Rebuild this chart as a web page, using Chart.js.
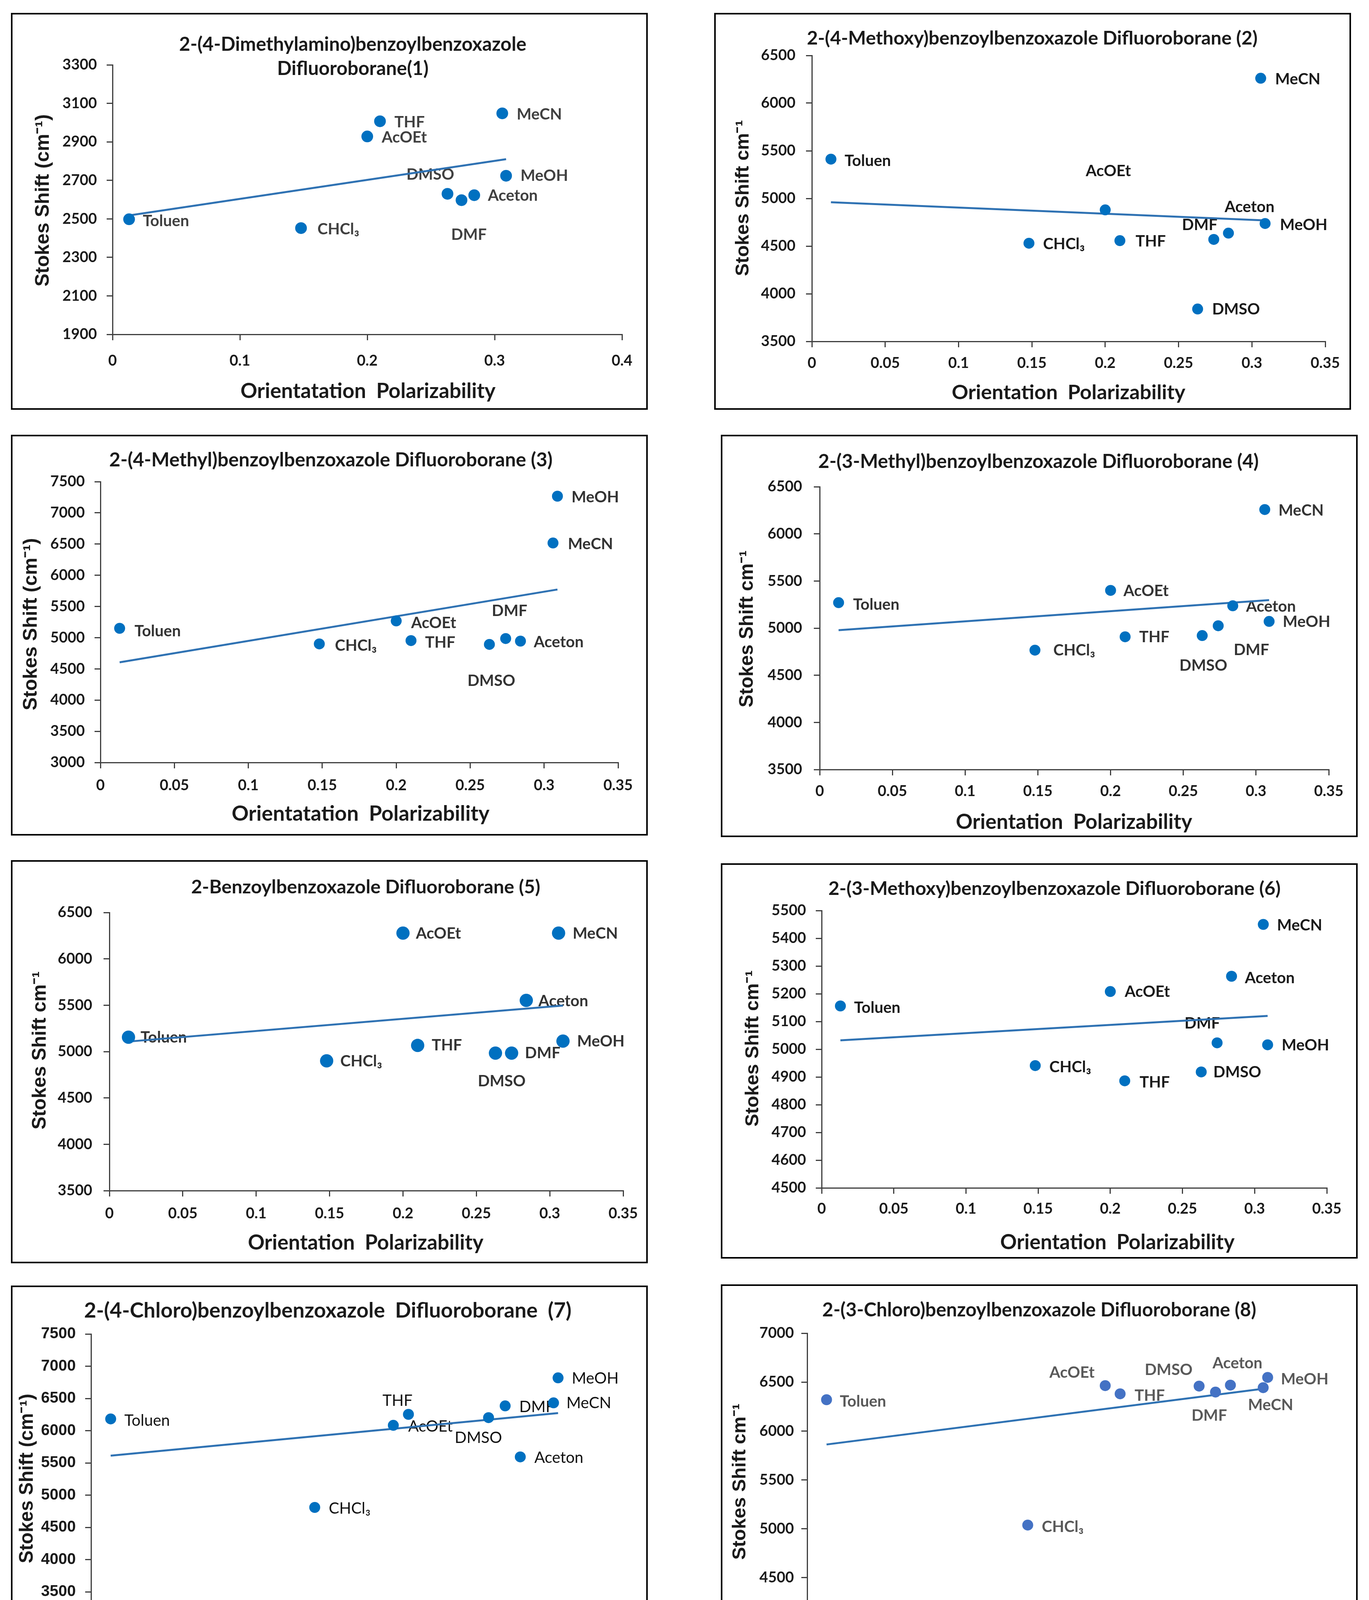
<!DOCTYPE html>
<html>
<head>
<meta charset="utf-8">
<script src="https://cdn.jsdelivr.net/npm/chart.js@4.4.1/dist/chart.umd.min.js"></script>
<style>
  html, body { margin: 0; padding: 0; background: #ffffff; }
  body { width: 3504px; height: 4344px; position: relative; overflow: hidden; }
  canvas { position: absolute; }
</style>
</head>
<body>
<script>
// Solvents and their orientation polarizability (shared by all eight plots)
const solvents = ['Toluen', 'CHCl₃', 'AcOEt', 'THF', 'DMSO', 'DMF', 'Aceton', 'MeOH', 'MeCN'];
const polarizability = [0.013, 0.148, 0.200, 0.210, 0.263, 0.274, 0.284, 0.309, 0.306];

// Stokes shift (cm-1) per compound, same order as solvents
const shift1 = [2498, 2452, 2928, 3007, 2630, 2597, 2623, 2724, 3048];
const shift2 = [5412, 4530, 4880, 4557, 3840, 4570, 4636, 4737, 6261];
const shift3 = [5150, 4900, 5268, 4953, 4892, 4986, 4945, 7267, 6517];
const shift4 = [5270, 4766, 5400, 4908, 4921, 5025, 5237, 5071, 6258];
const shift5 = [5155, 4900, 6278, 5066, 4983, 4983, 5552, 5113, 6278];
const shift6 = [5156, 4941, 5208, 4886, 4918, 5023, 5263, 5016, 5450];
const shift7 = [6183, 4811, 6084, 6254, 6203, 6385, 5594, 6820, 6432];
const shift8 = [6320, 5038, 6464, 6380, 6459, 6398, 6469, 6548, 6443];

// Linear trend lines, read at both ends of the data range
const trendX = [0.013, 0.309];
const trend1 = [2518, 2810];
const trend2 = [4960, 4769];
const trend3 = [4605, 5772];
const trend4 = [4978, 5297];
const trend5 = [5108, 5496];
const trend6 = [5032, 5120];
const trend7 = [5614, 6274];
const trend8 = [5862, 6438];

// Tick labels
const xTicksWide = [0, 0.1, 0.2, 0.3, 0.4];
const xTicks = [0, 0.05, 0.1, 0.15, 0.2, 0.25, 0.3, 0.35];
const yTicks1 = [1900, 2100, 2300, 2500, 2700, 2900, 3100, 3300];
const yTicks3500 = [3500, 4000, 4500, 5000, 5500, 6000, 6500];
const yTicks3000 = [3000, 3500, 4000, 4500, 5000, 5500, 6000, 6500, 7000, 7500];
const yTicks6 = [4500, 4600, 4700, 4800, 4900, 5000, 5100, 5200, 5300, 5400, 5500];
const yTicks8 = [4000, 4500, 5000, 5500, 6000, 6500, 7000];

const axisColor = '#3f3f3f';
const trendColor = '#2f72b3';
const textColor = '#1a1a1a';

// Label placement per point: [dx, dy, align]; null = to the right of the dot
const R = null;
const panels = [
  {
    box: [28, 33, 1630, 1016], area: [260, 133, 1564, 823], xPad: 34, yPad: 25,
    y: shift1, trend: trend1, xTicks: xTicksWide, yTicks: yTicks1,
    title: ['2-(4-Dimethylamino)benzoylbenzoxazole', 'Difluoroborane(1)'], titleX: 875, titleY: [81, 143], titleW: 889,
    xTitle: 'Orientatation  Polarizability', xTitleX: 914, xTitleY: 969, xTitleW: 653,
    yTitle: 'Stokes Shift (cm⁻¹)', yTitleX: 83, yTitleY: 480, yTitleW: 441,
    r: 15, marker: '#0070c0', labelColor: '#404040', labelWeight: 'bold',
    labels: [[35, 5], [42, 3], R, R, [-44, -49, 'center'], [19, 89, 'center'], [35, 1], [37, 0], R]
  },
  {
    box: [1828, 33, 1630, 1016], area: [250, 109, 1564, 841], xPad: 22, yPad: 27,
    y: shift2, trend: trend2, xTicks: xTicks, yTicks: yTicks3500,
    title: ['2-(4-Methoxy)benzoylbenzoxazole Difluoroborane (2)'], titleX: 814, titleY: [65], titleW: 1154,
    xTitle: 'Orientation  Polarizability', xTitleX: 907, xTitleY: 972, xTitleW: 598,
    yTitle: 'Stokes Shift cm⁻¹', yTitleX: 75, yTitleY: 474, yTitleW: 399,
    r: 14, marker: '#0070c0', labelColor: textColor, labelWeight: 'bold',
    labels: [[35, 5], [36, 2], [8, -99, 'center'], [40, 2], [37, 1], [-36, -37, 'center'], [54, -67, 'center'], [38, 4], R]
  },
  {
    box: [28, 1113, 1630, 1026], area: [229, 120, 1554, 839], xPad: 25, yPad: 25,
    y: shift3, trend: trend3, xTicks: xTicks, yTicks: yTicks3000,
    title: ['2-(4-Methyl)benzoylbenzoxazole Difluoroborane (3)'], titleX: 819, titleY: [65], titleW: 1135,
    xTitle: 'Orientatation  Polarizability', xTitleX: 895, xTitleY: 971, xTitleW: 660,
    yTitle: 'Stokes Shift (cm⁻¹)', yTitleX: 52, yTitleY: 485, yTitleW: 441,
    r: 14, marker: '#0070c0', labelColor: '#333333', labelWeight: 'bold',
    labels: [[38, 8], [40, 5], [38, 5], [36, 5], [5, 93, 'center'], [10, -71, 'center'], [34, 3], [36, 3], [38, 3]]
  },
  {
    box: [1845, 1113, 1630, 1030], area: [253, 133, 1556, 857], xPad: 22, yPad: 30,
    y: shift4, trend: trend4, xTicks: xTicks, yTicks: yTicks3500,
    title: ['2-(3-Methyl)benzoylbenzoxazole Difluoroborane (4)'], titleX: 813, titleY: [69], titleW: 1128,
    xTitle: 'Orientation  Polarizability', xTitleX: 904, xTitleY: 992, xTitleW: 605,
    yTitle: 'Stokes Shift cm⁻¹', yTitleX: 68, yTitleY: 497, yTitleW: 402,
    r: 14, marker: '#0070c0', labelColor: '#333333', labelWeight: 'bold',
    labels: [[37, 5], [47, 1], [33, 2], [36, 1], [3, 77, 'center'], [85, 62, 'center'], [34, 2], [35, 1], [35, 3]]
  },
  {
    box: [28, 2202, 1630, 1032], area: [252, 134, 1567, 846], xPad: 25, yPad: 29,
    y: shift5, trend: trend5, xTicks: xTicks, yTicks: yTicks3500,
    title: ['2-Benzoylbenzoxazole Difluoroborane (5)'], titleX: 908, titleY: [69], titleW: 894,
    xTitle: 'Orientation  Polarizability', xTitleX: 908, xTitleY: 980, xTitleW: 603,
    yTitle: 'Stokes Shift cm⁻¹', yTitleX: 75, yTitleY: 487, yTitleW: 405,
    r: 17, marker: '#0070c0', labelColor: '#333333', labelWeight: 'bold',
    labels: [[31, 1], [35, 1], [33, 1], [36, 0], [16, 72, 'center'], [34, 0], [31, 2], [36, 1], [36, 1]]
  },
  {
    box: [1845, 2210, 1630, 1012], area: [258, 121, 1551, 831], xPad: 20, yPad: 25,
    y: shift6, trend: trend6, xTicks: xTicks, yTicks: yTicks6,
    title: ['2-(3-Methoxy)benzoylbenzoxazole Difluoroborane (6)'], titleX: 854, titleY: [65], titleW: 1158,
    xTitle: 'Orientation  Polarizability', xTitleX: 1015, xTitleY: 971, xTitleW: 600,
    yTitle: 'Stokes Shift cm⁻¹', yTitleX: 83, yTitleY: 474, yTitleW: 400,
    r: 14, marker: '#0070c0', labelColor: textColor, labelWeight: 'bold',
    labels: [[35, 5], [36, 4], [37, 1], [38, 4], [31, 1], [-38, -50, 'center'], [34, 5], [36, 1], [35, 3]]
  },
  {
    box: [28, 3291, 1630, 1024], area: [205, 124, 1559, 867], xPad: 20, yPad: 24,
    tickFamily: 'Liberation Sans', tickSize: 40,
    y: shift7, trend: trend7, xTicks: xTicks, yTicks: yTicks3000,
    title: ['2-(4-Chloro)benzoylbenzoxazole  Difluoroborane  (7)'], titleX: 811, titleY: [65], titleW: 1248,
    xTitle: 'Orientatation  Polarizability', xTitleX: 885, xTitleY: 973, xTitleW: 647,
    yTitle: 'Stokes Shift (cm⁻¹)', yTitleX: 42, yTitleY: 494, yTitleW: 434,
    r: 14, marker: '#0070c0', labelColor: '#111111', labelWeight: 'normal',
    labels: [[35, 5], [36, 3], [38, 3], [-28, -35, 'center'], [-26, 52, 'center'], [36, 3], [36, 2], [35, 2], [33, 1]]
  },
  {
    box: [1845, 3288, 1630, 1028], area: [221, 125, 1556, 876], xPad: 24, yPad: 19,
    y: shift8, trend: trend8, xTicks: xTicks, yTicks: yTicks8,
    title: ['2-(3-Chloro)benzoylbenzoxazole Difluoroborane (8)'], titleX: 815, titleY: [66], titleW: 1111,
    xTitle: 'Orientatation  Polarizability', xTitleX: 890, xTitleY: 987, xTitleW: 652,
    yTitle: 'Stokes Shift cm⁻¹', yTitleX: 50, yTitleY: 505, yTitleW: 400,
    r: 14, marker: '#4472c4', labelColor: '#595959', labelWeight: 'bold',
    labels: [[34, 5], [36, 5], [-85, -33, 'center'], [37, 5], [-78, -41, 'center'], [-16, 60, 'center'], [18, -56, 'center'], [34, 5], [19, 45, 'center']]
  }
];

// font size that makes the text span the given width
function fitSize(ctx, text, weight, family, width) {
  ctx.font = weight + ' 100px ' + family;
  return 100 * width / ctx.measureText(text).width;
}

function makePanel(p) {
  const [left, top, w, h] = p.box;
  const [aL, aT, aR, aB] = p.area;

  const canvas = document.createElement('canvas');
  canvas.width = w;
  canvas.height = h;
  canvas.style.left = left + 'px';
  canvas.style.top = top + 'px';
  canvas.style.width = w + 'px';
  canvas.style.height = h + 'px';
  document.body.appendChild(canvas);

  const tickFont = {
    family: p.tickFamily || 'Lato',
    size: p.tickSize || 38,
    weight: 'bold',
    lineHeight: 1
  };

  // point labels go under the marks (the trend line crosses some of them)
  const panelText = {
    id: 'panelText',
    beforeDatasetsDraw(chart) {
      const ctx = chart.ctx;
      const meta = chart.getDatasetMeta(0);
      ctx.save();
      ctx.font = p.labelWeight + ' 40px Lato';
      ctx.fillStyle = p.labelColor;
      ctx.textBaseline = 'middle';
      meta.data.forEach((pt, i) => {
        const pos = p.labels[i] || [37, 3, 'left'];
        ctx.textAlign = pos[2] || 'left';
        ctx.fillText(solvents[i], pt.x + pos[0], pt.y + pos[1]);
      });
      ctx.restore();
    },
    afterDraw(chart) {
      const ctx = chart.ctx;
      ctx.save();
      ctx.fillStyle = textColor;
      ctx.textAlign = 'center';
      ctx.textBaseline = 'middle';

      // chart title
      let size = fitSize(ctx, p.title[0], 'bold', 'Lato', p.titleW);
      ctx.font = 'bold ' + size + 'px Lato';
      p.title.forEach((line, k) => ctx.fillText(line, p.titleX, p.titleY[k]));

      // x axis title
      size = fitSize(ctx, p.xTitle, 'bold', 'Lato', p.xTitleW);
      ctx.font = 'bold ' + size + 'px Lato';
      ctx.fillText(p.xTitle, p.xTitleX, p.xTitleY);

      // y axis title
      size = fitSize(ctx, p.yTitle, 'bold', '"Liberation Sans"', p.yTitleW);
      ctx.font = 'bold ' + size + 'px "Liberation Sans"';
      ctx.translate(p.yTitleX, p.yTitleY);
      ctx.rotate(-Math.PI / 2);
      ctx.fillText(p.yTitle, 0, 0);
      ctx.restore();

      // panel frame
      ctx.save();
      ctx.strokeStyle = '#000000';
      ctx.lineWidth = 4;
      ctx.strokeRect(2, 2, w - 4, h - 4);
      ctx.restore();
    }
  };

  new Chart(canvas, {
    type: 'scatter',
    data: {
      datasets: [
        {
          label: 'Stokes shift',
          data: p.y.map((v, i) => ({ x: polarizability[i], y: v })),
          pointRadius: p.r,
          pointHoverRadius: p.r,
          backgroundColor: p.marker,
          borderWidth: 0,
          order: 0
        },
        {
          label: 'Linear fit',
          data: trendX.map((x, i) => ({ x: x, y: p.trend[i] })),
          showLine: true,
          pointRadius: 0,
          borderColor: trendColor,
          borderWidth: 5,
          order: 1
        }
      ]
    },
    options: {
      responsive: false,
      devicePixelRatio: 1,
      animation: false,
      layout: { padding: { left: 0, top: aT, right: w - aR, bottom: 0 } },
      plugins: {
        legend: { display: false },
        tooltip: { enabled: false },
        title: { display: false }
      },
      scales: {
        x: {
          type: 'linear',
          min: p.xTicks[0],
          max: p.xTicks[p.xTicks.length - 1],
          afterFit: s => { s.height = h - aB; },
          afterBuildTicks: s => { s.ticks = p.xTicks.map(v => ({ value: v })); },
          ticks: {
            font: tickFont,
            color: textColor,
            padding: p.xPad,
            autoSkip: false,
            maxRotation: 0,
            callback: v => String(v)
          },
          grid: { drawOnChartArea: false, drawTicks: true, tickLength: 15, color: axisColor, lineWidth: 3 },
          border: { display: true, color: axisColor, width: 3 }
        },
        y: {
          type: 'linear',
          min: p.yTicks[0],
          max: p.yTicks[p.yTicks.length - 1],
          afterFit: s => { s.width = aL; },
          afterBuildTicks: s => { s.ticks = p.yTicks.map(v => ({ value: v })); },
          ticks: {
            font: tickFont,
            color: textColor,
            padding: p.yPad,
            autoSkip: false,
            callback: v => String(v)
          },
          grid: { drawOnChartArea: false, drawTicks: true, tickLength: 15, color: axisColor, lineWidth: 3 },
          border: { display: true, color: axisColor, width: 3 }
        }
      }
    },
    plugins: [panelText]
  });
}

panels.forEach(makePanel);
</script>
</body>
</html>
